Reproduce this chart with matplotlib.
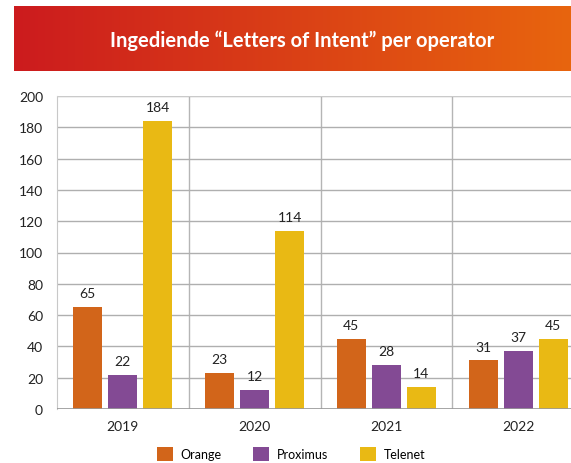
import numpy as np
import matplotlib.pyplot as plt
from matplotlib.patches import Patch
from matplotlib.colors import LinearSegmentedColormap

years = ["2019", "2020", "2021", "2022"]
operators = ["Orange", "Proximus", "Telenet"]
orange = [65, 23, 45, 31]
proximus = [22, 12, 28, 37]
telenet = [184, 114, 14, 45]
colors = ["#D2651A", "#834A94", "#E9B914"]

plt.rcParams['font.family'] = ['Lato', 'DejaVu Sans']

W, H = 571, 464
fig = plt.figure(figsize=(W / 100, H / 100), dpi=100)

# title bar with red -> orange gradient
bar_ax = fig.add_axes([14 / W, 1 - 72 / H, (W - 14) / W, 65 / H])
grad = np.linspace(0, 1, 256).reshape(1, -1)
cmap = LinearSegmentedColormap.from_list("hdr", ["#CC1B1E", "#E8650E"])
bar_ax.imshow(grad, aspect="auto", cmap=cmap, extent=[0, 1, 0, 1])
bar_ax.set_axis_off()
fig.text(302 / W, 1 - 41 / H, "Ingediende \u201cLetters of Intent\u201d per operator",
         color="white", fontsize=14.5, fontweight="bold", ha="center", va="center")

# main axes (right side runs past the figure edge, like the reference crop)
left, right = 57, 584
bottom, top = 410, 97
ax = fig.add_axes([left / W, 1 - bottom / H, (right - left) / W, (bottom - top) / H])

x = np.arange(len(years))
width = 0.22
step = 0.266
series = [orange, proximus, telenet]
for i, (vals, c) in enumerate(zip(series, colors)):
    pos = x + (i - 1) * step
    bars = ax.bar(pos, vals, width, color=c, zorder=3)
    for b, v in zip(bars, vals):
        ax.text(b.get_x() + b.get_width() / 2, v + 5, str(v), ha="center", va="bottom",
                fontsize=10, color="#222222")

ax.set_xlim(-0.5, 3.5)
ax.set_ylim(0, 200)
ax.set_yticks(range(0, 201, 20))
ax.set_xticks(x)
ax.set_xticklabels(years)
ax.tick_params(length=0, labelsize=10, colors="#222222")
ax.tick_params(axis="y", pad=10)
ax.tick_params(axis="x", pad=8)
ax.grid(axis="y", color="#AFAFAF", linewidth=1, zorder=0)
for b in [0.5, 1.5, 2.5]:
    ax.axvline(b, color="#B5B5B5", linewidth=1, zorder=0)
for s in ["top", "right", "bottom"]:
    ax.spines[s].set_visible(False)
ax.spines["left"].set_color("#C8C8C8")
ax.axhline(0, color="#999999", linewidth=1.2, zorder=4)
ax.axhline(200, color="#D0D0D0", linewidth=1.2, zorder=4)

handles = [Patch(facecolor=c, label=n) for c, n in zip(colors, operators)]
fig.legend(handles=handles, loc="center", bbox_to_anchor=(291 / W, 1 - 455 / H), ncol=3,
           frameon=False, fontsize=9, handlelength=1.28, handleheight=1.28,
           columnspacing=2.5, handletextpad=0.65)

fig.savefig("out.png", dpi=100)
